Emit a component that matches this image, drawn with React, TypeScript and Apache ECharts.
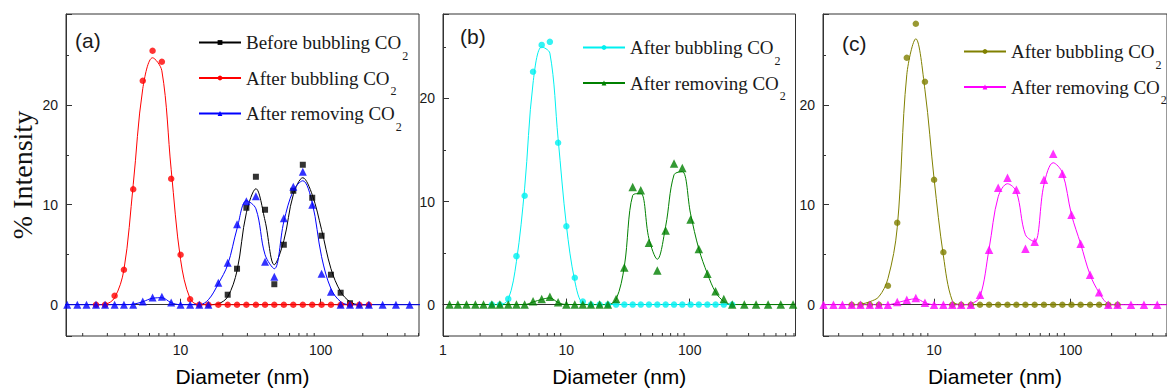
import React, { useEffect, useRef } from 'react';
import * as echarts from 'echarts';

const _ = null;

// Particle-size bins (nm), shared by all series
const BINS = [
  1.13, 1.32, 1.55, 1.83, 2.13, 2.49, 2.89, 3.38, 3.94, 4.59,
  5.37, 6.31, 7.35, 8.57, 10, 11.7, 13.6, 15.8, 18.6, 21.7,
  25.3, 29.5, 34.5, 40.1, 46.7, 54.6, 63.8, 74.6, 87.1, 101.6,
  118.5, 139, 162, 189, 221, 277, 345, 432, 547, 688,
];

// Panel (a)
const A_BEFORE_PTS = [
  _, _, _, _, _, _, _, _, _, _,
  _, _, _, _, _, _, _, _, _, 1.0,
  3.6, 9.7, 12.8, 9.5, 2.05, 6.0, 11.4, 14.0, 10.7, 6.9,
  3.0, 1.2, 0.15, _, _, _, _, _, _, _,
];
const A_BEFORE_FIT = [
  _, _, _, _, _, _, _, _, _, _,
  _, _, _, _, _, _, _, 0, 0.1, 0.8,
  3.4, 9.2, 11.6, 8.4, 4.0, 6.4, 11.0, 12.7, 11.0, 7.5,
  3.6, 1.3, 0.3, 0, 0, _, _, _, _, _,
];
const A_AFTER_PTS = [
  _, _, _, _, _, 0, 0, 0.9, 3.5, 11.55,
  22.4, 25.4, 24.3, 12.6, 5.0, 0.55, 0, 0, 0, 0,
  0, 0, 0, 0, 0, 0, 0, 0, 0, 0,
  0, 0, 0, 0, 0, _, _, _, _, _,
];
const A_AFTER_FIT = [
  _, _, _, _, _, 0, 0.05, 0.7, 3.5, 12.0,
  21.6, 24.7, 23.4, 13.5, 4.5, 0.6, 0, 0, 0, 0,
  0, 0, 0, 0, 0, 0, 0, 0, 0, 0,
  0, 0, 0, 0, 0, _, _, _, _, _,
];
const A_REMOVE_PTS = [
  _, _, 0, 0, 0, 0, 0, 0, 0, 0,
  0.33, 0.72, 0.79, 0.23, 0, 0, 0, 0, 2.2, 4.2,
  8.05, 10.35, 10.85, 4.3, 2.8, 8.65, 11.8, 13.3, 10.0, 3.1,
  1.3, 0, 0, 0, 0, 0, 0, 0, _, _,
];
const A_REMOVE_FIT = [
  _, 0, 0, 0, 0, 0, 0, 0, 0, 0.05,
  0.3, 0.65, 0.7, 0.2, 0, 0, 0, 0.5, 2.1, 4.0,
  7.6, 10.4, 9.6, 5.0, 3.6, 8.3, 11.4, 12.4, 10.2, 4.8,
  1.6, 0.3, 0, 0, 0, 0, 0, 0, 0, _,
];

// Panel (b)
const B_AFTER_PTS = [
  _, _, _, _, _, 0, 0, 0.55, 4.7, 10.56,
  22.6, 25.2, 25.5, 15.7, 7.6, 2.6, 0.3, 0, 0, 0,
  0, 0, 0, 0, 0, 0, 0, 0, 0, 0,
  0, 0, 0, 0, 0, _, _, _, _, _,
];
const B_AFTER_FIT = [
  _, _, _, _, _, 0, 0, 0.5, 4.2, 11.3,
  21.5, 25.0, 24.4, 16.1, 7.7, 2.3, 0.1, 0, 0, 0,
  0, 0, 0, 0, 0, 0, 0, 0, 0, 0,
  0, 0, 0, 0, 0, _, _, _, _, _,
];
const B_REMOVE_PTS = [
  0, 0, 0, 0, 0, 0, 0, 0, 0, 0,
  0.32, 0.55, 0.77, 0.22, 0, 0, 0, 0, 0, 0,
  0.55, 3.6, 11.4, 11.1, 6.0, 3.3, 7.2, 13.7, 13.25, 8.25,
  5.4, 3.0, 1.3, 0.55, 0, 0, 0, 0, 0, 0,
];
const B_REMOVE_FIT = [
  0, 0, 0, 0, 0, 0, 0, 0, 0, 0,
  0.25, 0.5, 0.65, 0.2, 0, 0, 0, 0, 0, 0,
  0.5, 3.7, 10.6, 10.8, 6.4, 4.4, 7.6, 12.6, 12.9, 8.8,
  5.4, 3.0, 1.2, 0.3, 0, 0, 0, 0, 0, 0,
];

// Panel (c)
const C_AFTER_PTS = [
  _, _, _, _, _, 0, 0, 0, 0, 1.9,
  8.2, 24.7, 28.1, 22.3, 12.5, 5.25, 0, 0, 0, 0,
  0, 0, 0, 0, 0, 0, 0, 0, 0, 0,
  0, 0, 0, 0, 0, _, _, _, _, _,
];
const C_AFTER_FIT = [
  _, _, _, _, _, 0, 0.05, 0.3, 0.8, 2.6,
  7.7, 23.0, 26.6, 21.5, 12.6, 4.9, 0.4, 0, 0, 0,
  0, 0, 0, 0, 0, 0, 0, 0, 0, 0,
  0, 0, 0, 0, 0, _, _, _, _, _,
];
const C_REMOVE_PTS = [
  _, _, 0, 0, 0, 0, 0, 0, 0, 0,
  0.26, 0.5, 0.66, 0.2, 0, 0, 0, 0, 0, 1.0,
  5.5, 11.7, 12.7, 11.5, 5.6, 6.3, 12.5, 15.1, 13.1, 9.0,
  6.1, 3.0, 1.25, 0, 0, 0, 0, 0, _, _,
];
const C_REMOVE_FIT = [
  _, 0, 0, 0, 0, 0, 0, 0, 0, 0,
  0.2, 0.45, 0.6, 0.2, 0, 0, 0, 0, 0.1, 0.8,
  5.6, 10.8, 12.1, 11.3, 7.0, 6.3, 12.0, 14.2, 13.2, 9.0,
  6.1, 3.0, 1.2, 0.1, 0, 0, 0, 0, 0, _,
];

const MINOR_X = [2, 3, 4, 5, 6, 7, 8, 9, 20, 30, 40, 50, 60, 70, 80, 90, 200, 300, 400, 500, 600, 700];
const PANEL_LABELS = ['(a)', '(b)', '(c)'];
const X_TITLE = 'Diameter (nm)';
const Y_TITLE = '% Intensity';

const AXIS_COLOR = '#333';
const TEXT_COLOR = '#1a1a1a';

const PANELS = [
  { grid: { left: 66, top: 14, width: 353, height: 326 }, x: [1.52, 504], y: [-3.13, 29.08], showMinX: false,
    legend: { left: 198, top: 33 }, label: { left: 75, top: 30 } },
  { grid: { left: 443, top: 14, width: 352.5, height: 325 }, x: [1, 720], y: [-3.05, 28.2], showMinX: true,
    legend: { left: 582, top: 38 }, label: { left: 460, top: 26 } },
  { grid: { left: 823, top: 14, width: 353, height: 326 }, x: [1.535, 509], y: [-3.13, 29.08], showMinX: false,
    legend: { left: 963, top: 42 }, label: { left: 842, top: 33 } },
];

const SERIES = [
  { panel: 0, id: 'a0', text: 'Before bubbling CO', color: '#000000', symbol: 'rect', size: 6, pts: A_BEFORE_PTS, fit: A_BEFORE_FIT },
  { panel: 0, id: 'a1', text: 'After bubbling CO', color: '#ff0000', symbol: 'circle', size: 6.5, pts: A_AFTER_PTS, fit: A_AFTER_FIT },
  { panel: 0, id: 'a2', text: 'After removing CO', color: '#0000ff', symbol: 'triangle', size: 8, pts: A_REMOVE_PTS, fit: A_REMOVE_FIT },
  { panel: 1, id: 'b0', text: 'After bubbling CO', color: '#00f0f0', symbol: 'circle', size: 6.5, pts: B_AFTER_PTS, fit: B_AFTER_FIT },
  { panel: 1, id: 'b1', text: 'After removing CO', color: '#008000', symbol: 'triangle', size: 8.5, pts: B_REMOVE_PTS, fit: B_REMOVE_FIT },
  { panel: 2, id: 'c0', text: 'After bubbling CO', color: '#808000', symbol: 'circle', size: 6.5, pts: C_AFTER_PTS, fit: C_AFTER_FIT },
  { panel: 2, id: 'c1', text: 'After removing CO', color: '#ff00ff', symbol: 'triangle', size: 8.5, pts: C_REMOVE_PTS, fit: C_REMOVE_FIT },
];

const pairs = (vals: (number | null)[]) =>
  BINS.map((d, i) => [d, vals[i]]).filter((p) => p[1] !== null);

function buildOption() {
  const labelMap: Record<string, string> = {};
  SERIES.forEach((s) => (labelMap[s.id] = s.text));

  const grid = PANELS.map((p) => ({ ...p.grid, show: true, borderColor: AXIS_COLOR, borderWidth: 1 }));

  const xAxis = PANELS.map((p, i) => ({
    type: 'log',
    logBase: 10,
    gridIndex: i,
    min: p.x[0],
    max: p.x[1],
    axisLine: { show: true, lineStyle: { color: AXIS_COLOR, width: 1 } },
    axisTick: { show: true, inside: true, length: 6, lineStyle: { color: AXIS_COLOR } },
    axisLabel: {
      fontFamily: 'Liberation Sans', fontSize: 14, color: TEXT_COLOR, margin: 7,
      showMinLabel: p.showMinX, showMaxLabel: false,
    },
    splitLine: { show: false },
    name: X_TITLE,
    nameLocation: 'middle',
    nameGap: 30,
    nameTextStyle: { fontFamily: 'Liberation Sans', fontSize: 21, color: '#000' },
  }));

  const yAxis = PANELS.map((p, i) => ({
    type: 'value',
    gridIndex: i,
    min: p.y[0],
    max: p.y[1],
    splitNumber: 3,
    axisLine: { show: true, lineStyle: { color: AXIS_COLOR, width: 1 } },
    axisTick: { show: true, inside: true, length: 6, lineStyle: { color: AXIS_COLOR } },
    minorTick: { show: true, splitNumber: 2, length: 3, lineStyle: { color: AXIS_COLOR } },
    axisLabel: {
      fontFamily: 'Liberation Sans', fontSize: 14, color: TEXT_COLOR, margin: 8,
      showMinLabel: false, showMaxLabel: false,
    },
    splitLine: { show: false },
    ...(i === 0
      ? {
          name: Y_TITLE,
          nameLocation: 'middle',
          nameGap: 30,
          nameTextStyle: { fontFamily: 'Liberation Serif', fontSize: 28, color: '#111' },
        }
      : {}),
  }));

  const series: any[] = [];
  SERIES.forEach((s) => {
    series.push({
      type: 'line',
      name: s.id,
      xAxisIndex: s.panel,
      yAxisIndex: s.panel,
      data: pairs(s.fit),
      smooth: 0.35,
      symbol: s.symbol,
      showSymbol: false,
      color: s.color,
      lineStyle: { color: s.color, width: 1 },
      silent: true,
      z: 2,
    });
    series.push({
      type: 'scatter',
      name: s.id + '-pts',
      xAxisIndex: s.panel,
      yAxisIndex: s.panel,
      data: pairs(s.pts),
      symbol: s.symbol,
      symbolSize: s.size,
      itemStyle: { color: s.color },
      silent: true,
      z: 3,
    });
  });

  PANELS.forEach((p, i) => {
    series.push({
      type: 'custom',
      xAxisIndex: i,
      yAxisIndex: i,
      silent: true,
      clip: true,
      z: 4,
      data: MINOR_X.map((v) => [v, p.y[0]]),
      renderItem: (_params: any, api: any) => {
        const pt = api.coord([api.value(0), api.value(1)]);
        return {
          type: 'line',
          shape: { x1: pt[0], y1: pt[1], x2: pt[0], y2: pt[1] - 3 },
          style: { stroke: AXIS_COLOR, lineWidth: 1 },
        };
      },
    });
  });

  const legend = PANELS.map((p, i) => ({
    data: SERIES.filter((s) => s.panel === i).map((s) => s.id),
    orient: 'vertical',
    left: p.legend.left,
    top: p.legend.top,
    padding: 0,
    itemWidth: 42,
    itemHeight: 6,
    itemGap: 7,
    selectedMode: false,
    formatter: (name: string) => `{t|${labelMap[name]}}{s|2}`,
    textStyle: {
      rich: {
        t: { fontFamily: 'Liberation Serif', fontSize: 19, color: TEXT_COLOR },
        s: { fontFamily: 'Liberation Serif', fontSize: 12, color: TEXT_COLOR, padding: [26, 0, 0, 1] },
      },
    },
  }));

  const graphic = PANELS.map((p, i) => ({
    type: 'text',
    left: p.label.left,
    top: p.label.top,
    style: { text: PANEL_LABELS[i], font: '21px "Liberation Sans"', fill: TEXT_COLOR },
  }));

  return {
    animation: false,
    backgroundColor: '#fff',
    textStyle: { fontFamily: 'Liberation Sans' },
    grid,
    xAxis,
    yAxis,
    legend,
    graphic,
    series,
  };
}

export default function App() {
  const ref = useRef<HTMLDivElement>(null);
  useEffect(() => {
    const chart = echarts.init(ref.current!, null, { renderer: 'svg' });
    chart.setOption(buildOption() as any);
    return () => chart.dispose();
  }, []);
  return (
    <div
      ref={ref}
      style={{ position: 'fixed', left: 0, top: 0, width: 1167, height: 392, background: '#fff' }}
    />
  );
}
